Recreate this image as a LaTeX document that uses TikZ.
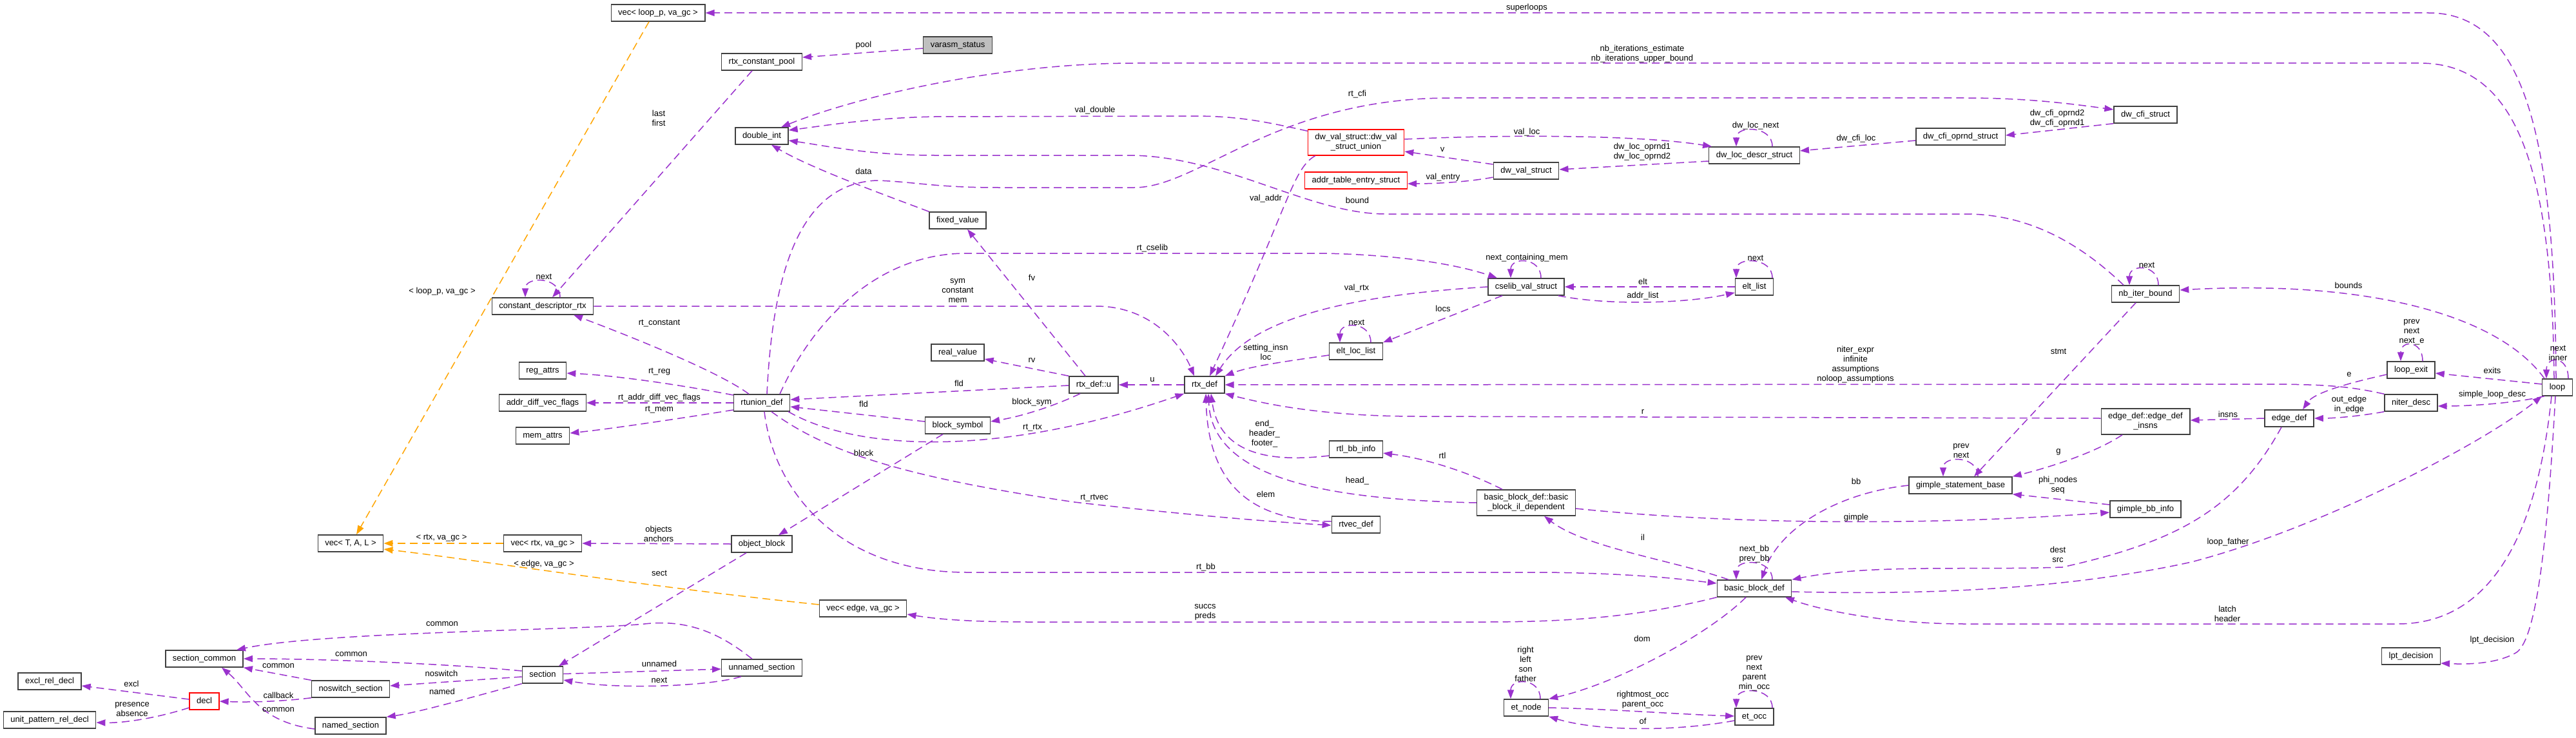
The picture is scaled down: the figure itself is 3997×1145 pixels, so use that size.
\documentclass[tikz,border=0pt]{standalone}
\usepackage{fontspec}
\setmainfont{Liberation Sans}
\usetikzlibrary{arrows.meta}
\definecolor{linkpurple}{HTML}{9A32CD}
\definecolor{tmplorange}{HTML}{FFA500}
\definecolor{boxline}{HTML}{404040}
\definecolor{rootfill}{HTML}{BFBFBF}

\begin{document}
\begin{tikzpicture}[x=1pt, y=-1pt,
        every node/.style={font=\fontsize{13}{15}\selectfont},
        box/.style={draw=boxline, fill=white, line width=1.4pt, inner xsep=11pt},
        cls/.style={box, minimum height=26pt, inner ysep=0pt, text height=9.5pt, text depth=2.8pt},
        cls2/.style={box, align=center, inner ysep=6.5pt},
        redcls/.style={cls, draw=red},
        redcls2/.style={cls2, draw=red},
        rootcls/.style={cls, fill=rootfill},
        link/.style={draw=linkpurple, line width=1.5pt, dash pattern=on 12pt off 7pt, -{Triangle[length=14pt, width=10pt]}},
        tmpl/.style={link, draw=tmplorange},
        lbl/.style={text=black, align=center, inner sep=0pt}
    ]
        \useasboundingbox (0,0) rectangle (3997,1145);

        % Place the structs (pixel coordinates, y grows downwards)
        \node[cls] (vecloop) at (1021,20) {vec< loop\_p, va\_gc >};
        \node[cls] (cpool) at (1182,96) {rtx\_constant\_pool};
        \node[rootcls] (varasm) at (1486,70) {varasm\_status};
        \node[cls] (dblint) at (1182,211) {double\_int};
        \node[redcls2] (dwunion) at (2104,221) {dw\_val\_struct::dw\_val\\\_struct\_union};
        \node[redcls] (addrtab) at (2104,280) {addr\_table\_entry\_struct};
        \node[cls] (dwval) at (2368,265) {dw\_val\_struct};
        \node[cls] (dwloc) at (2722,241) {dw\_loc\_descr\_struct};
        \node[cls] (cfiopnd) at (3042,212) {dw\_cfi\_oprnd\_struct};
        \node[cls] (dwcfi) at (3329,178) {dw\_cfi\_struct};
        \node[cls] (fixval) at (1486,342) {fixed\_value};
        \node[cls] (cdesc) at (842,475) {constant\_descriptor\_rtx};
        \node[cls] (cselib) at (2368,445) {cselib\_val\_struct};
        \node[cls] (eltlist) at (2722,445) {elt\_list};
        \node[cls] (eltloc) at (2104,545) {elt\_loc\_list};
        \node[cls] (nbiter) at (3329,456) {nb\_iter\_bound};
        \node[cls] (realval) at (1486,547) {real\_value};
        \node[cls] (regattr) at (842,575) {reg\_attrs};
        \node[cls] (advflags) at (842,625) {addr\_diff\_vec\_flags};
        \node[cls] (memattr) at (842,676) {mem\_attrs};
        \node[cls] (rtunion) at (1182,625) {rtunion\_def};
        \node[cls] (rtxu) at (1697,597) {rtx\_def::u};
        \node[cls] (rtxdef) at (1869,597) {rtx\_def};
        \node[cls] (blksym) at (1486,660) {block\_symbol};
        \node[cls] (rtlbb) at (2104,697) {rtl\_bb\_info};
        \node[cls2] (edgeins) at (3329,654) {edge\_def::edge\_def\\\_insns};
        \node[cls] (edgedef) at (3552,649) {edge\_def};
        \node[cls] (lexit) at (3741,574) {loop\_exit};
        \node[cls] (niter) at (3741,625) {niter\_desc};
        \node[cls] (loop) at (3968,601) {loop};
        \node[cls] (gsbase) at (3042,753) {gimple\_statement\_base};
        \node[cls] (gbbinfo) at (3329,790) {gimple\_bb\_info};
        \node[cls2] (bbil) at (2368,780) {basic\_block\_def::basic\\\_block\_il\_dependent};
        \node[cls] (rtvec) at (2104,814) {rtvec\_def};
        \node[cls] (vectal) at (544,843) {vec< T, A, L >};
        \node[cls] (vecrtx) at (842,843) {vec< rtx, va\_gc >};
        \node[cls] (objblk) at (1182,844) {object\_block};
        \node[cls] (vecedge) at (1339,944) {vec< edge, va\_gc >};
        \node[cls] (bbdef) at (2722,913) {basic\_block\_def};
        \node[cls] (seccom) at (317,1022) {section\_common};
        \node[cls] (exclrel) at (77,1057) {excl\_rel\_decl};
        \node[redcls] (decl) at (317,1088) {decl};
        \node[cls] (uprel) at (77,1117) {unit\_pattern\_rel\_decl};
        \node[cls] (noswitch) at (544,1069) {noswitch\_section};
        \node[cls] (namedsec) at (544,1126) {named\_section};
        \node[cls] (section) at (842,1047) {section};
        \node[cls] (unnamed) at (1182,1036) {unnamed\_section};
        \node[cls] (etnode) at (2368,1098) {et\_node};
        \node[cls] (etocc) at (2722,1112) {et\_occ};
        \node[cls] (lptdec) at (3741,1018) {lpt\_decision};

        % Draw the members of the rtx constant pool part
        \draw[link] ([yshift=-5pt]varasm.west) -- ([yshift=7pt]cpool.east) node[lbl] at (1340,70) {pool};
        \draw[link] ([xshift=-15pt]cpool.south) -- ([xshift=15pt]cdesc.north) node[lbl] at (1022,183) {last\\first};
        \draw[link] ([xshift=27pt]cdesc.north) .. controls +(0,-33) and +(0,-33) .. ([xshift=-27pt]cdesc.north) node[lbl] at (844,429) {next};
        \draw[link] (cdesc.east) -- (1700,475) .. controls (1790,475) and (1835,540) .. ([xshift=-16pt]rtxdef.north) node[lbl] at (1486,451) {sym\\constant\\mem};

        % Draw the members of loop
        \draw[link] ([xshift=-5pt]loop.north) .. controls (3960,250) and (3900,98) .. (3755,98) -- (1760,98) .. controls (1550,98) and (1330,150) .. ([xshift=30pt]dblint.north) node[lbl] at (2548,84) {nb\_iterations\_estimate\\nb\_iterations\_upper\_bound};
        \draw[link] ([xshift=-2pt]loop.north) .. controls (3964,220) and (3920,20) .. (3768,20) -- (vecloop.east) node[lbl] at (2369,12) {superloops};
        \draw[link] ([xshift=-20pt]loop.north) .. controls (3870,480) and (3650,435) .. ([yshift=6pt]nbiter.east) node[lbl] at (3644,443) {bounds};
        \draw[link] ([xshift=17pt]loop.north) .. controls +(0,-36) and +(0,-36) .. ([xshift=-17pt]loop.north) node[lbl] at (3969,548) {next\\inner};
        \draw[link] ([yshift=5pt]loop.west) -- ([yshift=-5pt]lexit.east) node[lbl] at (3867,575) {exits};
        \draw[link] ([xshift=-20pt]loop.south) .. controls (3900,626) and (3830,630) .. ([yshift=-5pt]niter.east) node[lbl] at (3867,612) {simple\_loop\_desc};
        \draw[link] ([xshift=-9pt]loop.south) .. controls (3940,800) and (3880,968) .. (3720,968) -- (3050,968) .. controls (2920,968) and (2820,945) .. ([xshift=48pt]bbdef.south) node[lbl] at (3456,952) {latch\\header};
        \draw[link] ([xshift=-3pt]loop.south) .. controls (3952,850) and (3935,990) .. (3905,1012) .. controls (3875,1030) and (3830,1031) .. ([yshift=-11pt]lptdec.east) node[lbl] at (3867,993) {lpt\_decision};

        % Draw the niter and edge members
        \draw[link] ([xshift=20pt]nbiter.north) .. controls +(0,-33) and +(0,-33) .. ([xshift=-25pt]nbiter.north) node[lbl] at (3331,411) {next};
        \draw[link] ([xshift=-15pt]nbiter.south) -- ([xshift=21pt]gsbase.north) node[lbl] at (3194,545) {stmt};
        \draw[link] ([xshift=-34pt]nbiter.north) .. controls (3240,390) and (3160,332) .. (3050,332) -- (2150,332) .. controls (2030,332) and (1900,241) .. (1750,241) -- (1450,241) .. controls (1350,241) and (1280,226) .. ([yshift=-7pt]dblint.east) node[lbl] at (2106,311) {bound};
        \draw[link] ([xshift=18pt]lexit.north) .. controls +(0,-33) and +(0,-33) .. ([xshift=-16pt]lexit.north) node[lbl] at (3742,515) {prev\\next\\next\_e};
        \draw[link] ([yshift=-7pt]lexit.west) .. controls (3640,595) and (3590,610) .. ([xshift=21pt]edgedef.north) node[lbl] at (3645,581) {e};
        \draw[link] (niter.south west) .. controls (3660,646) and (3620,649) .. (edgedef.east) node[lbl] at (3645,628) {out\_edge\\in\_edge};
        \draw[link] (niter.north west) .. controls (3640,598) and (3600,596) .. (3500,596) -- (rtxdef.east) node[lbl] at (2879,566) {niter\_expr\\infinite\\assumptions\\noloop\_assumptions};
        \draw[link] (edgedef.west) -- ([yshift=2pt]edgeins.east) node[lbl] at (3457,643) {insns};
        \draw[link] ([yshift=5pt]edgeins.west) -- (2200,646) .. controls (2050,646) and (1960,626) .. (rtxdef.south east) node[lbl] at (2549,639) {r};
        \draw[link] ([xshift=-36pt]edgeins.south) .. controls (3250,703) and (3180,725) .. (gsbase.north east) node[lbl] at (3194,701) {g};
        \draw[link] ([xshift=-12pt]edgedef.south) .. controls (3470,790) and (3380,840) .. (3200,880) .. controls (3050,885) and (2900,875) .. (bbdef.north east) node[lbl] at (3193,860) {dest\\src};

        % Draw the gimple and basic block members
        \draw[link] ([xshift=27pt]gsbase.north) .. controls +(0,-33) and +(0,-33) .. ([xshift=-27pt]gsbase.north) node[lbl] at (3043,700) {prev\\next};
        \draw[link] ([yshift=7pt]gbbinfo.west) -- (gsbase.south east) node[lbl] at (3193,753) {phi\_nodes\\seq};
        \draw[link] (gsbase.west) .. controls (2850,765) and (2760,820) .. ([xshift=11pt]bbdef.north) node[lbl] at (2880,747) {bb};
        \draw[link] ([yshift=-9pt]bbil.east) .. controls (2700,815) and (3000,815) .. ([yshift=-5pt]gbbinfo.west) node[lbl] at (2880,803) {gimple};
        \draw[link] ([xshift=-37pt]bbil.north) .. controls (2290,738) and (2220,712) .. ([yshift=-6pt]rtlbb.east) node[lbl] at (2238,707) {rtl};
        \draw[link] (bbil.west) .. controls (2050,775) and (1880,740) .. ([xshift=6pt]rtxdef.south) node[lbl] at (2106,746) {head\_};
        \draw[link] ([yshift=-10pt]rtlbb.west) .. controls (1985,716) and (1893,712) .. ([xshift=10pt]rtxdef.south) node[lbl] at (1962,673) {end\_\\header\_\\footer\_};
        \draw[link] ([yshift=5pt]rtvec.west) .. controls (1950,808) and (1875,760) .. ([xshift=2pt]rtxdef.south) node[lbl] at (1964,767) {elem};
        \draw[link] ([xshift=-40pt]bbdef.north) .. controls (2600,870) and (2460,850) .. ([xshift=28pt]bbil.south) node[lbl] at (2549,834) {il};
        \draw[link] ([yshift=-5pt]bbdef.east) .. controls (3050,925) and (3250,905) .. (3400,872) .. controls (3600,820) and (3850,690) .. (loop.south west) node[lbl] at (3457,841) {loop\_father};
        \draw[link] ([xshift=28pt]bbdef.north) .. controls +(0,-33) and +(0,-33) .. ([xshift=-28pt]bbdef.north) node[lbl] at (2722,860) {next\_bb\\prev\_bb};
        \draw[link] (bbdef.south west) .. controls (2550,955) and (2450,965) .. (2300,965) -- (1600,965) .. controls (1500,965) and (1450,960) .. ([yshift=-9pt]vecedge.east) node[lbl] at (1870,950) {succs\\preds};
        \draw[link] ([xshift=-13pt]bbdef.south) .. controls (2650,985) and (2510,1060) .. (etnode.north east) node[lbl] at (2548,991) {dom};

        % Draw the et tree members
        \draw[link] ([xshift=22pt]etnode.north) .. controls +(0,-33) and +(0,-33) .. ([xshift=-24pt]etnode.north) node[lbl] at (2367,1030) {right\\left\\son\\father};
        \draw[link] (etnode.east) .. controls (2500,1100) and (2600,1108) .. ([yshift=1pt]etocc.west) node[lbl] at (2549,1086) {rightmost\_occ\\parent\_occ};
        \draw[link] ([yshift=-6pt]etocc.west) .. controls (2600,1135) and (2480,1135) .. (etnode.south east) node[lbl] at (2549,1119) {of};
        \draw[link] ([xshift=28pt]etocc.north) .. controls +(0,-33) and +(0,-33) .. ([xshift=-28pt]etocc.north) node[lbl] at (2722,1045) {prev\\next\\parent\\min\_occ};

        % Draw the members of rtunion_def and rtx_def
        \draw[link] ([xshift=15pt]rtunion.south) .. controls (1280,700) and (1400,740) .. (1667,779) .. controls (1850,800) and (1980,810) .. ([yshift=-1pt]rtvec.west) node[lbl] at (1698,773) {rt\_rtvec};
        \draw[link] ([xshift=4pt]rtunion.south) .. controls (1200,760) and (1300,888) .. (1500,888) -- (2400,888) .. controls (2550,890) and (2620,900) .. ([yshift=8pt]bbdef.west) node[lbl] at (1871,880) {rt\_bb};
        \draw[link] ([xshift=-3pt]rtunion.south east) .. controls (1330,700) and (1550,710) .. (rtxdef.south west) node[lbl] at (1602,664) {rt\_rtx};
        \draw[link] ([xshift=8pt]rtunion.north) .. controls (1200,400) and (1250,285) .. (1360,280) .. controls (1420,282) and (1450,291) .. (1550,291) -- (1760,291) .. controls (1860,291) and (1980,152) .. (2250,152) -- (3050,152) .. controls (3150,152) and (3220,162) .. ([yshift=8pt]dwcfi.west) node[lbl] at (2106,146) {rt\_cfi};
        \draw[link] ([xshift=28pt]rtunion.north) .. controls (1260,500) and (1360,393) .. (1500,393) -- (2050,393) .. controls (2170,395) and (2260,410) .. ([xshift=-45pt]cselib.north) node[lbl] at (1788,385) {rt\_cselib};
        \draw[link] ([xshift=-20pt]rtunion.north) .. controls (1120,580) and (1000,530) .. ([xshift=48pt]cdesc.south) node[lbl] at (1023,502) {rt\_constant};
        \draw[link] ([yshift=12pt]rtunion.west) .. controls (1050,596) and (950,582) .. ([yshift=-4pt]regattr.east) node[lbl] at (1023,577) {rt\_reg};
        \draw[link] (rtunion.west) -- (advflags.east) node[lbl] at (1023,617) {rt\_addr\_diff\_vec\_flags};
        \draw[link] ([yshift=-11pt]rtunion.west) .. controls (1050,650) and (950,665) .. ([yshift=4pt]memattr.east) node[lbl] at (1023,636) {rt\_mem};
        \draw[link] (rtxdef.west) -- (rtxu.east) node[lbl] at (1788,589) {u};
        \draw[link] ([yshift=-1pt]rtxu.west) -- ([yshift=5pt]rtunion.east) node[lbl] at (1488,595) {fld};
        \draw[link] ([yshift=6pt]blksym.west) -- ([yshift=-6pt]rtunion.east) node[lbl] at (1340,627) {fld};
        \draw[link] ([xshift=-21pt]rtxu.south) .. controls (1640,628) and (1590,645) .. ([yshift=6pt]blksym.east) node[lbl] at (1601,624) {block\_sym};
        \draw[link] ([xshift=-13pt]rtxu.north) -- ([xshift=15pt]fixval.south) node[lbl] at (1601,431) {fv};
        \draw[link] (rtxu.north west) -- ([yshift=-10pt]realval.east) node[lbl] at (1601,559) {rv};
        \draw[link] (fixval.north west) .. controls (1380,305) and (1260,262) .. ([xshift=15pt]dblint.south) node[lbl] at (1340,266) {data};
        \draw[link] ([xshift=-23pt]blksym.south) -- ([xshift=26pt]objblk.north) node[lbl] at (1340,703) {block};

        % Draw the dwarf members
        \draw[link] ([yshift=-3pt]dwunion.north west) .. controls (1960,188) and (1920,180) .. (1850,180) -- (1450,181) .. controls (1350,183) and (1280,195) .. ([yshift=9pt]dblint.east) node[lbl] at (1699,171) {val\_double};
        \draw[link] ([xshift=12pt]dwunion.south west) .. controls (2005,262) and (2000,320) .. ([xshift=8pt]rtxdef.north) node[lbl] at (1964,308) {val\_addr};
        \draw[link] ([yshift=10pt]dwval.west) -- ([yshift=-14pt]dwunion.east) node[lbl] at (2238,232) {v};
        \draw[link] ([yshift=-10pt]dwval.west) .. controls (2280,282) and (2230,285) .. ([yshift=-5pt]addrtab.east) node[lbl] at (2239,275) {val\_entry};
        \draw[link] ([yshift=5pt]dwunion.east) .. controls (2350,208) and (2550,210) .. ([xshift=5pt]dwloc.north west) node[lbl] at (2369,205) {val\_loc};
        \draw[link] ([yshift=-9pt]dwloc.west) -- ([yshift=2pt]dwval.east) node[lbl] at (2548,236) {dw\_loc\_oprnd1\\dw\_loc\_oprnd2};
        \draw[link] ([xshift=28pt]dwloc.north) .. controls +(0,-33) and +(0,-33) .. ([xshift=-28pt]dwloc.north) node[lbl] at (2724,195) {dw\_loc\_next};
        \draw[link] ([yshift=-6pt]cfiopnd.west) -- ([yshift=7pt]dwloc.east) node[lbl] at (2880,215) {dw\_cfi\_loc};
        \draw[link] (dwcfi.south west) -- ([yshift=2pt]cfiopnd.east) node[lbl] at (3192,184) {dw\_cfi\_oprnd2\\dw\_cfi\_oprnd1};

        % Draw the cselib members
        \draw[link] (eltlist.west) -- (cselib.east) node[lbl] at (2549,437) {elt};
        \draw[link] ([xshift=-10pt]cselib.south east) .. controls (2500,475) and (2620,470) .. ([yshift=-9pt]eltlist.west) node[lbl] at (2549,459) {addr\_list};
        \draw[link] ([xshift=23pt]cselib.north) .. controls +(0,-33) and +(0,-33) .. ([xshift=-24pt]cselib.north) node[lbl] at (2369,400) {next\_containing\_mem};
        \draw[link] ([xshift=28pt]eltlist.north) .. controls +(0,-33) and +(0,-33) .. ([xshift=-28pt]eltlist.north) node[lbl] at (2724,400) {next};
        \draw[link] ([xshift=-37pt]cselib.south) -- (eltloc.north east) node[lbl] at (2239,479) {locs};
        \draw[link] ([xshift=23pt]eltloc.north) .. controls +(0,-33) and +(0,-33) .. ([xshift=-25pt]eltloc.north) node[lbl] at (2105,500) {next};
        \draw[link] ([yshift=-6pt]eltloc.west) .. controls (2000,560) and (1940,568) .. (rtxdef.north east) node[lbl] at (1964,546) {setting\_insn\\loc};
        \draw[link] (cselib.west) .. controls (2150,455) and (1950,480) .. ([xshift=17pt]rtxdef.north) node[lbl] at (2105,447) {val\_rtx};

        % Draw the template instances
        \draw[tmpl] ([xshift=-14pt]vecloop.south) -- ([xshift=9pt]vectal.north) node[lbl] at (686,452) {< loop\_p, va\_gc >};
        \draw[tmpl] (vecrtx.west) -- (vectal.east) node[lbl] at (685,835) {< rtx, va\_gc >};
        \draw[tmpl] ([yshift=6pt]vecedge.west) .. controls (1000,910) and (750,870) .. ([yshift=-9pt]vectal.east) node[lbl] at (844,875) {< edge, va\_gc >};

        % Draw the section members
        \draw[link] (objblk.west) -- (vecrtx.east) node[lbl] at (1022,828) {objects\\anchors};
        \draw[link] ([xshift=-24pt]objblk.south) -- ([xshift=25pt]section.north) node[lbl] at (1023,889) {sect};
        \draw[link] ([yshift=6pt]section.west) .. controls (700,1030) and (500,1022) .. (seccom.east) node[lbl] at (545,1015) {common};
        \draw[link] ([xshift=-15pt]unnamed.north) .. controls (1120,985) and (1070,960) .. (1000,968) .. controls (900,978) and (500,980) .. ([xshift=50pt]seccom.north) node[lbl] at (686,968) {common};
        \draw[link] (noswitch.north west) -- (seccom.south east) node[lbl] at (432,1033) {common};
        \draw[link] ([yshift=-5pt]namedsec.west) .. controls (400,1120) and (385,1070) .. ([xshift=27pt]seccom.south) node[lbl] at (432,1101) {common};
        \draw[link] (noswitch.south west) .. controls (440,1088) and (390,1090) .. (decl.east) node[lbl] at (432,1079) {callback};
        \draw[link] ([yshift=-3pt]section.west) -- ([yshift=5pt]noswitch.east) node[lbl] at (685,1045) {noswitch};
        \draw[link] (section.south west) .. controls (720,1085) and (650,1105) .. (namedsec.north east) node[lbl] at (686,1073) {named};
        \draw[link] ([yshift=3pt]decl.west) -- ([yshift=-7pt]exclrel.east) node[lbl] at (204,1061) {excl};
        \draw[link] ([yshift=-10pt]decl.west) .. controls (240,1115) and (190,1122) .. ([yshift=-4pt]uprel.east) node[lbl] at (205,1101) {presence\\absence};
        \draw[link] ([yshift=1.5pt]section.east) -- ([yshift=-2pt]unnamed.west) node[lbl] at (1023,1030) {unnamed};
        \draw[link] ([xshift=-32pt]unnamed.south) .. controls (1100,1065) and (960,1070) .. ([yshift=-8pt]section.east) node[lbl] at (1023,1055) {next};

    \end{tikzpicture}
\end{document}
